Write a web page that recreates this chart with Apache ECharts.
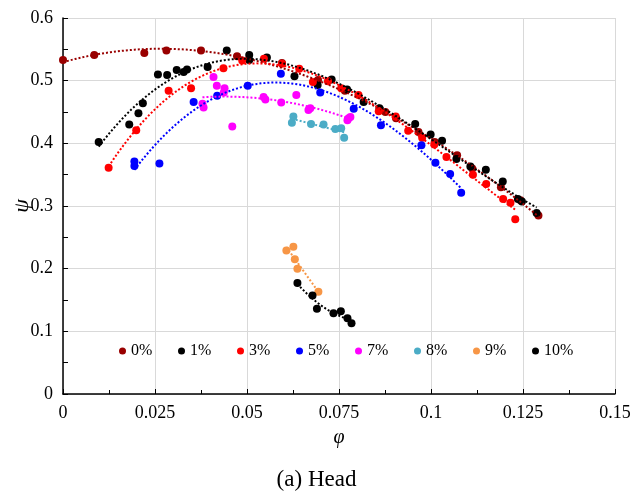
<!DOCTYPE html>
<html>
<head>
<meta charset="utf-8">
<script src="https://cdn.jsdelivr.net/npm/echarts@6/dist/echarts.min.js"></script>
<style>
  html, body { margin: 0; padding: 0; background: #fff; }
  #chart { width: 633px; height: 495px; }
</style>
</head>
<body>
<div id="chart"></div>
<script>
// values (phi = flow coefficient, psi = head coefficient)
var names = ['0%', '1%', '3%', '5%', '7%', '8%', '9%', '10%'];
var colors = ['#990000', '#000000', '#FF0000', '#0000FF', '#FF00FF', '#4BACC6', '#F79646', '#000000'];
// order of the polynomial trendline for each series
var trendOrder = [3, 3, 3, 3, 2, 1, 1, 2];

var phi0 = [0.000, 0.0085, 0.0221, 0.0281, 0.0375, 0.0473, 0.0595, 0.0693, 0.0766, 0.0876, 0.0905, 0.0966, 0.1010, 0.1071, 0.1112, 0.1190, 0.1243, 0.1292];
var psi0 = [0.533, 0.541, 0.544, 0.548, 0.548, 0.539, 0.528, 0.501, 0.484, 0.450, 0.440, 0.418, 0.402, 0.381, 0.360, 0.330, 0.309, 0.285];

var phi1 = [0.0097, 0.0180, 0.0205, 0.0217, 0.0258, 0.0283, 0.0309, 0.0328, 0.0337, 0.0393, 0.0445, 0.0506, 0.0506, 0.0554, 0.0629, 0.0692, 0.0730, 0.0772, 0.0817, 0.0860, 0.0957, 0.0999, 0.1030, 0.1069, 0.1107, 0.1149, 0.1195, 0.1236, 0.1247, 0.1287];
var psi1 = [0.402, 0.430, 0.448, 0.464, 0.510, 0.509, 0.517, 0.514, 0.518, 0.522, 0.548, 0.541, 0.533, 0.537, 0.507, 0.493, 0.502, 0.486, 0.466, 0.456, 0.431, 0.414, 0.404, 0.375, 0.363, 0.358, 0.339, 0.311, 0.307, 0.289];

var phi3 = [0.0124, 0.0199, 0.0287, 0.0348, 0.0436, 0.0487, 0.0546, 0.0595, 0.0642, 0.0679, 0.0720, 0.0756, 0.0803, 0.0858, 0.0904, 0.0938, 0.0976, 0.1009, 0.1042, 0.1114, 0.1150, 0.1196, 0.1216, 0.1229];
var psi3 = [0.361, 0.421, 0.484, 0.488, 0.520, 0.532, 0.535, 0.527, 0.519, 0.498, 0.499, 0.488, 0.477, 0.451, 0.443, 0.420, 0.409, 0.398, 0.378, 0.350, 0.335, 0.311, 0.305, 0.279];

var phi5 = [0.0194, 0.0194, 0.0262, 0.0355, 0.0419, 0.0502, 0.0592, 0.0699, 0.0790, 0.0864, 0.0974, 0.1012, 0.1052, 0.1082];
var psi5 = [0.371, 0.364, 0.368, 0.466, 0.476, 0.492, 0.511, 0.481, 0.455, 0.429, 0.397, 0.369, 0.351, 0.321];

var phi7 = [0.0379, 0.0382, 0.0409, 0.0418, 0.0437, 0.0439, 0.0460, 0.0545, 0.0550, 0.0593, 0.0634, 0.0667, 0.0672, 0.0773, 0.0776, 0.0781];
var psi7 = [0.463, 0.457, 0.506, 0.492, 0.481, 0.488, 0.427, 0.474, 0.470, 0.465, 0.477, 0.453, 0.456, 0.437, 0.440, 0.442];

var phi8 = [0.0622, 0.0626, 0.0674, 0.0708, 0.0740, 0.0756, 0.0764];
var psi8 = [0.433, 0.443, 0.431, 0.430, 0.423, 0.424, 0.409];

var phi9 = [0.0607, 0.0626, 0.0630, 0.0637, 0.0694];
var psi9 = [0.229, 0.235, 0.215, 0.200, 0.163];

var phi10 = [0.0637, 0.0678, 0.0690, 0.0735, 0.0755, 0.0773, 0.0784];
var psi10 = [0.177, 0.157, 0.136, 0.129, 0.132, 0.121, 0.113];

var phiAll = [phi0, phi1, phi3, phi5, phi7, phi8, phi9, phi10];
var psiAll = [psi0, psi1, psi3, psi5, psi7, psi8, psi9, psi10];

var font = 'Liberation Serif';

// least squares polynomial fit, like the Excel trendline
function polyfit(xs, ys, deg) {
  var n = deg + 1;
  var A = [];
  for (var i = 0; i < n; i++) A.push(new Array(n + 1).fill(0));
  xs.forEach(function (x0, k) {
    var x = x0 * 10;
    for (var i = 0; i < n; i++) {
      for (var j = 0; j < n; j++) A[i][j] += Math.pow(x, i + j);
      A[i][n] += ys[k] * Math.pow(x, i);
    }
  });
  for (var c = 0; c < n; c++) {
    var p = c;
    for (var r = c + 1; r < n; r++) if (Math.abs(A[r][c]) > Math.abs(A[p][c])) p = r;
    var t = A[c]; A[c] = A[p]; A[p] = t;
    for (var r = 0; r < n; r++) {
      if (r === c) continue;
      var f = A[r][c] / A[c][c];
      for (var k = c; k <= n; k++) A[r][k] -= f * A[c][k];
    }
  }
  var coef = [];
  for (var i = 0; i < n; i++) coef.push(A[i][n] / A[i][i]);
  return function (x0) {
    var x = x0 * 10, s = 0;
    for (var i = 0; i < n; i++) s += coef[i] * Math.pow(x, i);
    return s;
  };
}

function trend(xs, ys, deg) {
  var f = polyfit(xs, ys, deg);
  var lo = Math.min.apply(null, xs), hi = Math.max.apply(null, xs);
  var pts = [];
  for (var i = 0; i <= 80; i++) {
    var x = lo + (hi - lo) * i / 80;
    pts.push([x, f(x)]);
  }
  return pts;
}

var series = [];
names.forEach(function (nm, i) {
  series.push({
    name: nm,
    type: 'scatter',
    symbolSize: 8,
    itemStyle: { color: colors[i], opacity: 1 },
    data: phiAll[i].map(function (x, k) { return [x, psiAll[i][k]]; }),
    z: 2
  });
});
names.forEach(function (nm, i) {
  series.push({
    name: nm + ' trend',
    type: 'line',
    showSymbol: false,
    silent: true,
    lineStyle: { color: colors[i], width: 2, type: [2, 2], cap: 'butt' },
    data: trend(phiAll[i], psiAll[i], trendOrder[i]),
    z: 3
  });
});

var legends = names.map(function (nm, i) {
  return {
    data: [nm],
    left: 119 + i * 59,
    top: 343,
    padding: 0,
    icon: 'circle',
    itemWidth: 7,
    itemHeight: 7,
    selectedMode: false,
    textStyle: { fontFamily: font, fontSize: 16, color: '#000' }
  };
});

var chart = echarts.init(document.getElementById('chart'));
chart.setOption({
  animation: false,
  backgroundColor: '#fff',
  title: {
    text: '(a) Head',
    left: 'center',
    top: 468,
    padding: 0,
    textStyle: { fontFamily: font, fontSize: 23, fontWeight: 'normal', color: '#000' }
  },
  legend: legends,
  grid: { left: 63, top: 18, width: 552, height: 376, outerBoundsMode: 'none', containLabel: false },
  xAxis: {
    type: 'value',
    min: 0,
    max: 0.15,
    interval: 0.025,
    name: 'φ',
    nameLocation: 'middle',
    nameGap: 34,
    nameTextStyle: { fontFamily: font, fontSize: 20, fontStyle: 'italic', color: '#000' },
    axisLine: { show: true, lineStyle: { color: '#000', width: 1.5 } },
    axisTick: { show: true, inside: true, length: 5, lineStyle: { color: '#000' } },
    minorTick: { show: true, splitNumber: 2, length: 4, lineStyle: { color: '#000' } },
    axisLabel: { fontFamily: font, fontSize: 18, color: '#000', margin: 10 },
    splitLine: { show: true, lineStyle: { color: '#D9D9D9', width: 1 } }
  },
  yAxis: {
    type: 'value',
    min: 0,
    max: 0.6,
    interval: 0.1,
    name: 'ψ',
    nameLocation: 'middle',
    nameGap: 30,
    nameMoveOverlap: false,
    nameRotate: 90,
    nameTextStyle: { fontFamily: font, fontSize: 22, fontStyle: 'italic', color: '#000' },
    axisLine: { show: true, lineStyle: { color: '#000', width: 1.5 } },
    axisTick: { show: true, inside: true, length: 5, lineStyle: { color: '#000' } },
    minorTick: { show: true, splitNumber: 2, length: 5, lineStyle: { color: '#000' } },
    axisLabel: { fontFamily: font, fontSize: 18, color: '#000', margin: 10 },
    splitLine: { show: true, lineStyle: { color: '#D9D9D9', width: 1 } }
  },
  series: series
});
</script>
</body>
</html>
